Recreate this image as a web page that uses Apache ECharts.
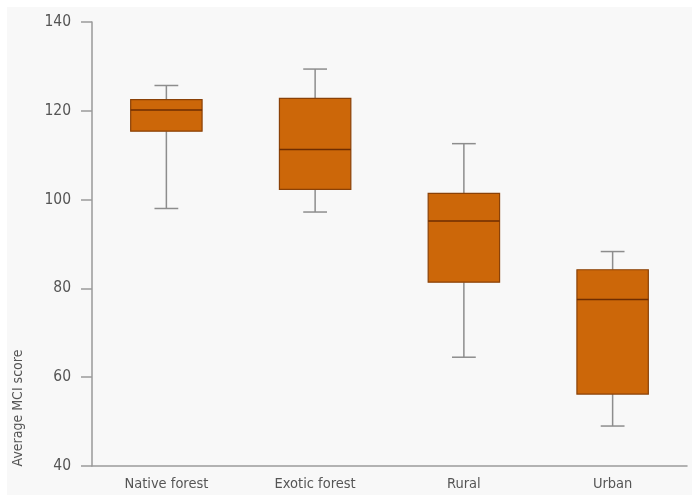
<!DOCTYPE html>
<html>
<head>
<meta charset="utf-8">
<script src="https://cdn.jsdelivr.net/npm/echarts@6/dist/echarts.min.js"></script>
<style>
  html, body { margin: 0; padding: 0; background: #ffffff; }
  #chart { width: 692px; height: 495px; }
</style>
</head>
<body>
<div id="chart"></div>
<script>
// Land-use categories along the x axis
var categories = ['Native forest', 'Exotic forest', 'Rural', 'Urban'];

// Five-number summaries of the average MCI score per land use
var lowerWhisker = [98.0, 97.2, 64.5, 49.0];
var lowerQuartile = [115.4, 102.3, 81.4, 56.2];
var medians = [120.2, 111.3, 95.2, 77.5];
var upperQuartile = [122.5, 122.8, 101.4, 84.2];
var upperWhisker = [125.7, 129.4, 112.6, 88.3];

// Y axis tick values
var yTicks = [40, 60, 80, 100, 120, 140];
var yTitle = 'Average MCI score';

var FONT = "'Liberation Sans Narrow', 'DejaVu Sans Condensed', 'Roboto', sans-serif";

var boxData = categories.map(function (c, i) {
  return [i, lowerWhisker[i], lowerQuartile[i], medians[i], upperQuartile[i], upperWhisker[i]];
});

function renderBox(params, api) {
  var idx = api.value(0);
  var bandW = api.size([1, 0])[0];
  var boxW = bandW * 0.48;
  var capW = bandW * 0.16;
  var pMin = api.coord([idx, api.value(1)]);
  var pQ1 = api.coord([idx, api.value(2)]);
  var pMed = api.coord([idx, api.value(3)]);
  var pQ3 = api.coord([idx, api.value(4)]);
  var pMax = api.coord([idx, api.value(5)]);
  var cx = pMed[0];
  var whisker = { stroke: '#8d8d8d', lineWidth: 1.5 };
  return {
    type: 'group',
    children: [
      { type: 'line', shape: { x1: cx, y1: pQ3[1], x2: cx, y2: pMax[1] }, style: whisker },
      { type: 'line', shape: { x1: cx, y1: pQ1[1], x2: cx, y2: pMin[1] }, style: whisker },
      { type: 'line', shape: { x1: cx - capW / 2, y1: pMax[1], x2: cx + capW / 2, y2: pMax[1] }, style: whisker },
      { type: 'line', shape: { x1: cx - capW / 2, y1: pMin[1], x2: cx + capW / 2, y2: pMin[1] }, style: whisker },
      {
        type: 'rect',
        shape: { x: cx - boxW / 2, y: pQ3[1], width: boxW, height: pQ1[1] - pQ3[1] },
        style: { fill: '#cc6709', stroke: '#8a4107', lineWidth: 1.2 }
      },
      {
        type: 'line',
        shape: { x1: cx - boxW / 2, y1: pMed[1], x2: cx + boxW / 2, y2: pMed[1] },
        style: { stroke: '#6e2d02', lineWidth: 1.5 }
      }
    ]
  };
}

var chart = echarts.init(document.getElementById('chart'), null, { renderer: 'canvas' });
chart.setOption({
  backgroundColor: '#ffffff',
  animation: false,
  graphic: [{
    type: 'rect',
    z: -10,
    silent: true,
    shape: { x: 7, y: 7, width: 692, height: 495 },
    style: { fill: '#f8f8f8' }
  }, {
    type: 'text',
    silent: true,
    x: 18,
    y: 408,
    rotation: Math.PI / 2,
    style: {
      text: yTitle,
      fill: '#555555',
      font: '14px ' + FONT,
      textAlign: 'center',
      textVerticalAlign: 'middle'
    }
  }],
  grid: { left: 92, right: 5, top: 22, bottom: 29, containLabel: false, outerBoundsMode: 'none' },
  xAxis: {
    type: 'category',
    data: categories,
    boundaryGap: true,
    axisLine: { lineStyle: { color: '#9a9a9a', width: 1.5 } },
    axisTick: { inside: true, length: 7, lineStyle: { color: '#9a9a9a', width: 1.5 } },
    axisLabel: { color: '#555555', fontSize: 14.5, fontFamily: FONT, margin: 11 },
    splitLine: { show: false }
  },
  yAxis: {
    type: 'value',
    min: yTicks[0],
    max: yTicks[yTicks.length - 1],
    interval: yTicks[1] - yTicks[0],
    axisLine: { show: true, lineStyle: { color: '#9a9a9a', width: 1.5 } },
    axisTick: { show: true, inside: false, length: 11, lineStyle: { color: '#9a9a9a', width: 1.5 } },
    axisLabel: { color: '#555555', fontSize: 15.5, fontFamily: FONT, margin: 21 },
    splitLine: { show: false }
  },
  series: [{
    type: 'custom',
    renderItem: renderBox,
    encode: { x: 0, y: [1, 2, 3, 4, 5] },
    data: boxData
  }]
});
</script>
</body>
</html>
